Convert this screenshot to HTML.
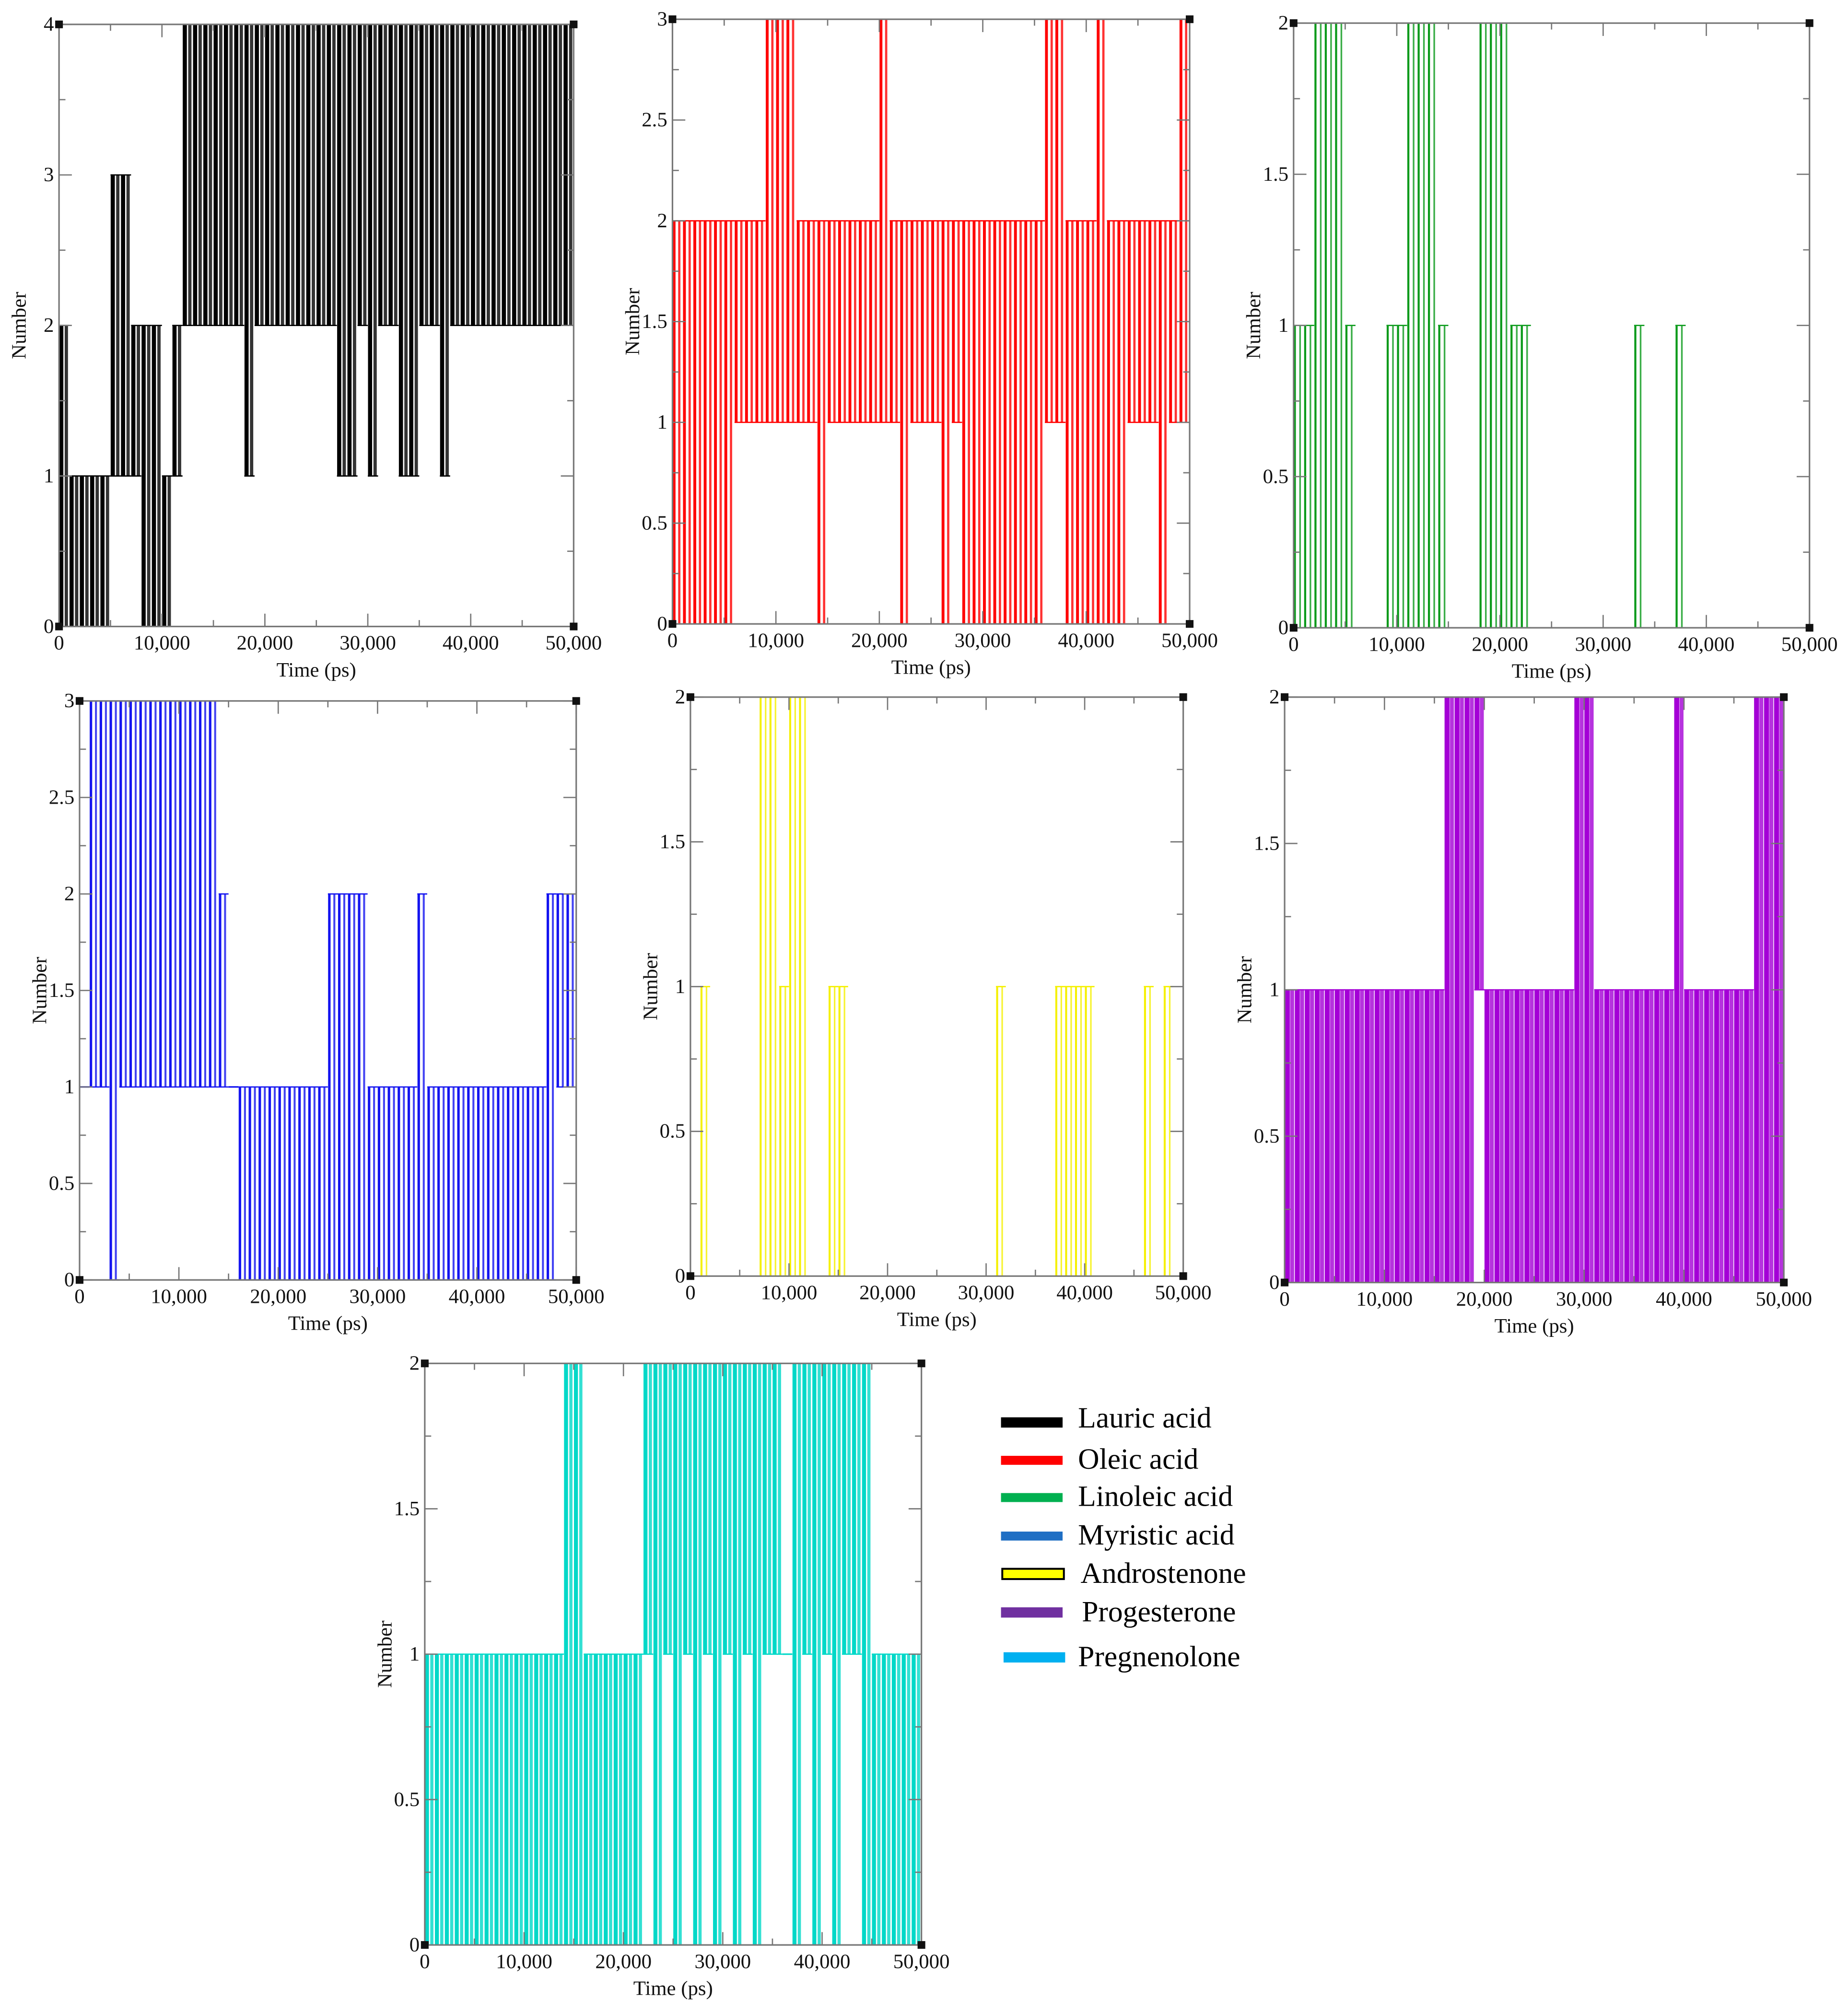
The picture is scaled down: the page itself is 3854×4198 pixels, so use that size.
<!DOCTYPE html>
<html><head><meta charset="utf-8"><title>Number vs time</title>
<style>html,body{margin:0;padding:0;background:#fff;}svg{display:block;}</style></head>
<body>
<svg id="fig" xmlns="http://www.w3.org/2000/svg" width="3854" height="4198" viewBox="0 0 1440 1568" preserveAspectRatio="none" font-family="'Liberation Serif', serif">
<rect x="0" y="0" width="1440" height="1568" fill="#fff"/>
<g id="legend" font-size="23" fill="#000">
 <g><rect x="780" y="1104" width="48" height="8" fill="#000"/><text x="840" y="1112">Lauric acid</text></g>
 <g><rect x="780" y="1134" width="48" height="7" fill="#ff0000"/><text x="840" y="1144">Oleic acid</text></g>
 <g><rect x="780" y="1163" width="48" height="7" fill="#00b050"/><text x="840" y="1173">Linoleic acid</text></g>
 <g><rect x="780" y="1193" width="48" height="7" fill="#1f6fc4"/><text x="840" y="1203">Myristic acid</text></g>
 <g><rect x="781" y="1222" width="48" height="8" fill="#ffff00" stroke="#000" stroke-width="1.5"/><text x="842" y="1233">Androstenone</text></g>
 <g><rect x="780" y="1252" width="48" height="8" fill="#7030a0"/><text x="843" y="1263">Progesterone</text></g>
 <g><rect x="782" y="1287" width="48" height="8" fill="#00b0f0"/><text x="840" y="1298">Pregnenolone</text></g>
</g>
</svg>
<script>
// Bin data: 50 bins of 1000 ps; lo/hi = range of Number within each bin
const timeTicks = [0, 10000, 20000, 30000, 40000, 50000];
const timeTickLabels = ["0", "10,000", "20,000", "30,000", "40,000", "50,000"];
const lauricLo = [0,0,0,0,0,1,1,1,0,0,0,1,2,2,2,2,2,2,1,2,2,2,2,2,2,2,2,1,1,2,1,2,2,1,1,2,2,1,2,2,2,2,2,2,2,2,2,2,2,2];
const lauricHi = [2,1,1,1,1,3,3,2,2,2,1,2,4,4,4,4,4,4,4,4,4,4,4,4,4,4,4,4,4,4,4,4,4,4,4,4,4,4,4,4,4,4,4,4,4,4,4,4,4,4];
const oleicLo = [0,0,0,0,0,0,1,1,1,1,1,1,1,1,0,1,1,1,1,1,1,1,0,1,1,1,0,1,0,0,0,0,0,0,0,0,1,1,0,0,0,0,0,0,1,1,1,0,1,1];
const oleicHi = [2,2,2,2,2,2,2,2,2,3,3,3,2,2,2,2,2,2,2,2,3,2,2,2,2,2,2,2,2,2,2,2,2,2,2,2,3,3,2,2,2,3,2,2,2,2,2,2,2,3];
const linoleicLo = [0,0,0,0,0,0,0,0,0,0,0,0,0,0,0,0,0,0,0,0,0,0,0,0,0,0,0,0,0,0,0,0,0,0,0,0,0,0,0,0,0,0,0,0,0,0,0,0,0,0];
const linoleicHi = [1,1,2,2,2,1,0,0,0,1,1,2,2,2,1,0,0,0,2,2,2,1,1,0,0,0,0,0,0,0,0,0,0,1,0,0,0,1,0,0,0,0,0,0,0,0,0,0,0,0];
const myristicLo = [1,1,1,0,1,1,1,1,1,1,1,1,1,1,1,1,0,0,0,0,0,0,0,0,0,0,0,0,0,0,0,0,0,0,0,0,0,0,0,0,0,0,0,0,0,0,0,0,1,1];
const myristicHi = [1,3,3,3,3,3,3,3,3,3,3,3,3,3,2,1,1,1,1,1,1,1,1,1,1,2,2,2,2,1,1,1,1,1,2,1,1,1,1,1,1,1,1,1,1,1,1,2,2,2];
const androLo = [0,0,0,0,0,0,0,0,0,0,0,0,0,0,0,0,0,0,0,0,0,0,0,0,0,0,0,0,0,0,0,0,0,0,0,0,0,0,0,0,0,0,0,0,0,0,0,0,0,0];
const androHi = [0,1,0,0,0,0,0,2,2,1,2,2,0,0,1,1,0,0,0,0,0,0,0,0,0,0,0,0,0,0,0,1,0,0,0,0,0,1,1,1,1,0,0,0,0,0,1,0,1,0];
const progLo = [0,0,0,0,0,0,0,0,0,0,0,0,0,0,0,0,0,0,0,1,0,0,0,0,0,0,0,0,0,0,0,0,0,0,0,0,0,0,0,0,0,0,0,0,0,0,0,0,0,0];
const progHi = [1,1,1,1,1,1,1,1,1,1,1,1,1,1,1,1,2,2,2,2,1,1,1,1,1,1,1,1,1,2,2,1,1,1,1,1,1,1,1,2,1,1,1,1,1,1,1,2,2,2];
const pregLo = [0,0,0,0,0,0,0,0,0,0,0,0,0,0,0,0,0,0,0,0,0,0,1,0,1,0,1,0,1,0,1,0,1,0,1,1,1,0,1,0,1,0,1,1,0,0,0,0,0,0];
const pregHi = [1,1,1,1,1,1,1,1,1,1,1,1,1,1,2,2,1,1,1,1,1,1,2,2,2,2,2,2,2,2,2,2,2,2,2,2,1,2,2,2,2,2,2,2,2,1,1,1,1,1];

const panels = [
 {name:"lauric", lo:lauricLo, hi:lauricHi, color:"#000", f:0.8, x0:46, x1:447, yT:19, yB:488, ymax:4, yticks:[0,1,2,3,4], ylabels:["0","1","2","3","4"], minor:0.5},
 {name:"oleic", lo:oleicLo, hi:oleicHi, color:"#ff0000", f:0.55, x0:524, x1:927, yT:15, yB:486, ymax:3, yticks:[0,0.5,1,1.5,2,2.5,3], ylabels:["0","0.5","1","1.5","2","2.5","3"], minor:0.25},
 {name:"linoleic", lo:linoleicLo, hi:linoleicHi, color:"#0a9a1a", f:0.4, x0:1008, x1:1410, yT:18, yB:489, ymax:2, yticks:[0,0.5,1,1.5,2], ylabels:["0","0.5","1","1.5","2"], minor:0.25},
 {name:"myristic", lo:myristicLo, hi:myristicHi, color:"#1414f0", f:0.5, x0:62, x1:449, yT:546, yB:997, ymax:3, yticks:[0,0.5,1,1.5,2,2.5,3], ylabels:["0","0.5","1","1.5","2","2.5","3"], minor:0.25},
 {name:"androstenone", lo:androLo, hi:androHi, color:"#f5f000", f:0.4, x0:538, x1:922, yT:543, yB:994, ymax:2, yticks:[0,0.5,1,1.5,2], ylabels:["0","0.5","1","1.5","2"], minor:0.25},
 {name:"progesterone", lo:progLo, hi:progHi, color:"#a400d6", f:1.0, x0:1001, x1:1390, yT:543, yB:999, ymax:2, yticks:[0,0.5,1,1.5,2], ylabels:["0","0.5","1","1.5","2"], minor:0.25},
 {name:"pregnenolone", lo:pregLo, hi:pregHi, color:"#00d8c8", f:0.8, x0:331, x1:718, yT:1062, yB:1515, ymax:2, yticks:[0,0.5,1,1.5,2], ylabels:["0","0.5","1","1.5","2"], minor:0.25}
];
const NS = "http://www.w3.org/2000/svg";
const svg = document.getElementById('fig');
function mk(tag, attrs, parent){ const e=document.createElementNS(NS,tag); for(const k in attrs) e.setAttribute(k,attrs[k]); parent.appendChild(e); return e; }

panels.forEach(p => {
  const g = mk('g', {}, svg);
  
  
  const xs = t => p.x0 + (t/50000)*(p.x1-p.x0);
  const ys = v => p.yB - (v/p.ymax)*(p.yB-p.yT);
  const n = p.lo.length, bw = 50000/n;
  const series = mk('g', {fill:p.color, stroke:p.color}, g);
  
  
  for (let i=0;i<n;i++){
    const a = xs(i*bw), b = xs((i+1)*bw), lo=p.lo[i], hi=p.hi[i];
    if (hi > lo) {
      const w = (b-a);
      const w1 = w*p.f*0.5, w2 = w*p.f*0.4;
      const r1 = mk('rect', {x:a+w*0.02, y:ys(hi), width:w1, height:ys(lo)-ys(hi), stroke:'none'}, series);
      
      
      const r2 = mk('rect', {x:a+w*0.55, y:ys(hi), width:w2, height:ys(lo)-ys(hi), stroke:'none', 'fill-opacity':0.8}, series);
      
      
      mk('line', {x1:a, x2:b, y1:ys(hi), y2:ys(hi), 'stroke-width':1}, series);
      mk('line', {x1:a, x2:b, y1:ys(lo), y2:ys(lo), 'stroke-width':1}, series);
    } else if (hi > 0) {
      mk('line', {x1:a, x2:b, y1:ys(hi), y2:ys(hi), 'stroke-width':1.2}, series);
    }
  }
  const fr = mk('rect', {x:p.x0, y:p.yT, width:p.x1-p.x0, height:p.yB-p.yT, fill:'none', stroke:'#777', 'stroke-width':1.2}, g);
  
  
  const tk = mk('g', {stroke:'#777', 'stroke-width':1}, g);
  for (let t=0;t<=50000;t+=5000){
    const L = (t%10000===0)?10:5, x=xs(t);
    mk('line',{x1:x,x2:x,y1:p.yB,y2:p.yB-L},tk);
    mk('line',{x1:x,x2:x,y1:p.yT,y2:p.yT+L},tk);
  }
  for (let v=0; v<=p.ymax+1e-9; v+=p.minor){
    const major = p.yticks.some(q=>Math.abs(q-v)<1e-9);
    const L = major?10:5, y=ys(v);
    mk('line',{x1:p.x0,x2:p.x0+L,y1:y,y2:y},tk);
    mk('line',{x1:p.x1,x2:p.x1-L,y1:y,y2:y},tk);
  }
  [[p.x0,p.yT],[p.x1,p.yT],[p.x0,p.yB],[p.x1,p.yB]].forEach(c=>{
    mk('rect',{x:c[0]-3,y:c[1]-3,width:6,height:6,fill:'#111'},g);
  });
  const xl = mk('g', {'font-size':16, 'text-anchor':'middle', fill:'#111'}, g);
  
  
  timeTicks.forEach((t,i)=>{ const e=mk('text',{x:xs(t), y:p.yB+18},xl); e.textContent=timeTickLabels[i]; });
  const yl = mk('g', {'font-size':16, 'text-anchor':'end', fill:'#111'}, g);
  
  
  p.yticks.forEach((v,i)=>{ const e=mk('text',{x:p.x0-4, y:ys(v)+5},yl); e.textContent=p.ylabels[i]; });
  const xt = mk('text', {x:(p.x0+p.x1)/2, y:p.yB+39, 'font-size':16, 'text-anchor':'middle', fill:'#111'}, g);
  
  
  xt.textContent = 'Time (ps)';
  const cy = (p.yT+p.yB)/2, cx = p.x0-26;
  const yt = mk('text', {x:cx, y:cy, 'font-size':16, 'text-anchor':'middle', fill:'#111', transform:'rotate(-90 '+cx+' '+cy+')'}, g);
  
  
  yt.textContent = 'Number';
});
</script>
</body></html>
